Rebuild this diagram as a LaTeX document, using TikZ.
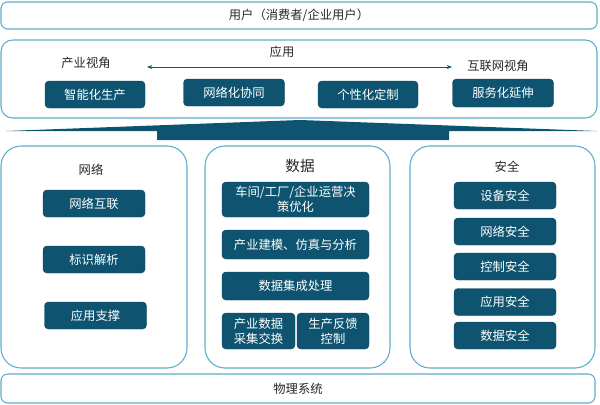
\documentclass[tikz,border=0pt]{standalone}
\usepackage{fontspec}
\setmainfont{Noto Sans CJK SC}
\usetikzlibrary{arrows.meta}
\definecolor{teal}{HTML}{0E5470}
\definecolor{edgeblue}{HTML}{5AACCD}
\definecolor{txt}{HTML}{262626}
\tikzstyle{darkbox}=[rectangle,rounded corners=1.2mm,draw=teal!80!black,fill=teal,
                     text=white,align=center,inner sep=0pt,
                     font=\fontsize{10.5}{12.5}\selectfont]
\tikzstyle{panel}=[draw=edgeblue,line width=0.9pt]
\tikzstyle{title}=[text=txt,font=\fontsize{10.5}{12}\selectfont]

\begin{document}
\begin{tikzpicture}[x=0.3mm,y=-0.3mm]
    \useasboundingbox (0,0) rectangle (600,404);
    % top and bottom bars
    \node (user) at (299,15.5) [panel,rounded corners=2mm,minimum width=178.8mm,
          minimum height=8.1mm,title]{用户（消费者/企业用户）};
    \node (phys) at (298,388.5) [panel,rounded corners=2mm,minimum width=178.2mm,
          minimum height=8.7mm,title]{物理系统};
    % application layer
    \draw[panel,rounded corners=3.5mm] (1,40) rectangle (597,118);
    \node (app) at (282,52) [title]{应用};
    \node (indview) at (86,63) [title]{产业视角};
    \node (webview) at (498,66) [title]{互联网视角};
    \coordinate (arrl) at (147,67);
    \coordinate (arrr) at (452,67);
    \draw[teal,line width=0.5pt,{Stealth[length=1.6mm,width=1.2mm]}-{Stealth[length=1.6mm,width=1.2mm]}] (arrl) -- (arrr);
    \node (a1) at (95,94.5)  [darkbox,minimum width=30mm,minimum height=8.1mm]{智能化生产};
    \node (a2) at (234,92.5) [darkbox,minimum width=30.3mm,minimum height=8.1mm]{网络化协同};
    \node (a3) at (368,94.5) [darkbox,minimum width=30mm,minimum height=8.1mm]{个性化定制};
    \node (a4) at (503,93)   [darkbox,minimum width=30.3mm,minimum height=8.4mm]{服务化延伸};
    % wide arrow
    \fill[teal] (6,131) -- (157,131) -- (157,140) -- (449,140) -- (449,131)
          -- (597,131) -- (300,120) -- cycle;
    % network panel
    \draw[panel,rounded corners=6mm] (1,146) rectangle (187,368);
    \node (net) at (91,170) [title]{网络};
    \node (n1) at (94,203.5)   [darkbox,minimum width=30.6mm,minimum height=8.1mm]{网络互联};
    \node (n2) at (94,259.5)   [darkbox,minimum width=30.6mm,minimum height=8.1mm]{标识解析};
    \node (n3) at (95.5,315.5) [darkbox,minimum width=30.6mm,minimum height=8.1mm]{应用支撑};
    % data panel
    \draw[panel,rounded corners=6mm] (205,146) rectangle (390,368);
    \node (data) at (300,166) [title,font=\fontsize{12.5}{14}\selectfont]{数据};
    \node (d1) at (295.5,199.5) [darkbox,minimum width=44.1mm,minimum height=10.5mm]{车间/工厂/企业运营决\\策优化};
    \node (d2) at (295.5,244.5) [darkbox,minimum width=44.1mm,minimum height=8.7mm]{产业建模、仿真与分析};
    \node (d3) at (295.5,286)   [darkbox,minimum width=44.1mm,minimum height=8.4mm]{数据集成处理};
    \node (d4) at (258.5,331)   [darkbox,minimum width=21.9mm,minimum height=10.8mm]{产业数据\\采集交换};
    \node (d5) at (333,331)     [darkbox,minimum width=21.6mm,minimum height=10.8mm]{生产反馈\\控制};
    % security panel
    \draw[panel,rounded corners=6mm] (410,146) rectangle (595,368);
    \node (sec) at (507,167) [title]{安全};
    \foreach \name/\y/\txt in {s1/195.5/设备安全,s2/231.5/网络安全,s3/266.5/控制安全,
                               s4/302/应用安全,s5/335.5/数据安全}
      \node (\name) at (505,\y) [darkbox,minimum width=30.6mm,minimum height=8.1mm]{\txt};
  \end{tikzpicture}
\end{document}
